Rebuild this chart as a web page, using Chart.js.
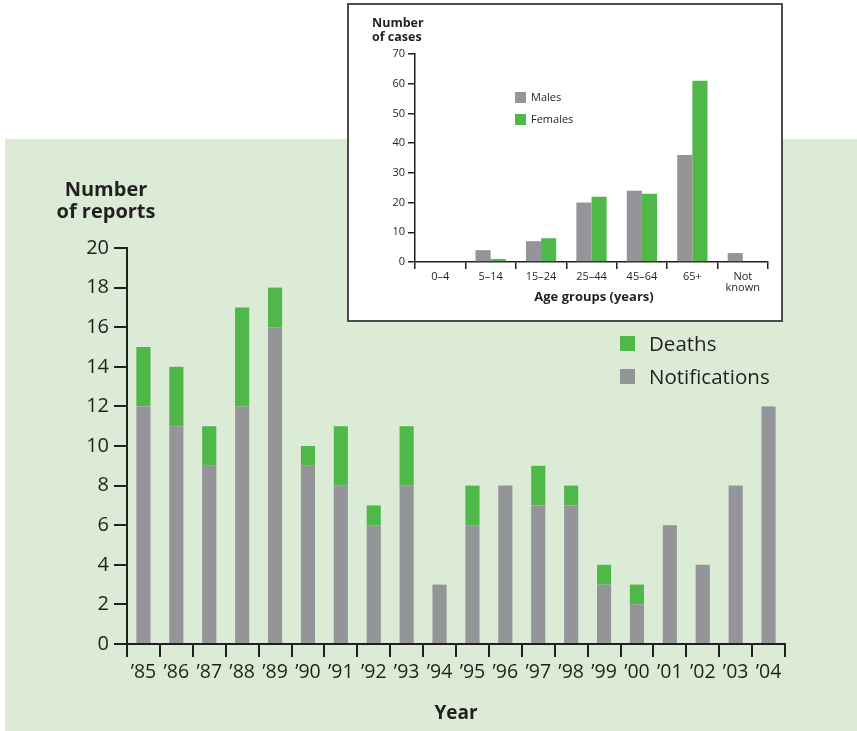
<!DOCTYPE html>
<html>
<head>
<meta charset="utf-8">
<script src="https://cdn.jsdelivr.net/npm/chart.js@4.4.0/dist/chart.umd.min.js"></script>
<style>
  body { margin: 0; width: 857px; height: 731px; background: #fff; position: relative; overflow: hidden; font-family: "Open Sans", sans-serif; color: #231f20; }
  #panel { position: absolute; left: 5px; top: 139px; width: 852px; height: 592px; background: #dbebd5; }
  #mainWrap { position: absolute; left: 0; top: 138px; width: 857px; height: 593px; }
  #insetBox { position: absolute; left: 347px; top: 3px; width: 432px; height: 315px; background: #fff; border: 2px solid #4d4d4f; }
  #insetWrap { position: absolute; left: 0; top: 0; width: 430px; height: 315px; }
  .txt { position: absolute; white-space: nowrap; line-height: 1; }
  .b { font-weight: 700; }
  .sq { position: absolute; }
</style>
</head>
<body>
<div id="panel"></div>
<div id="mainWrap"><canvas id="mainChart"></canvas></div>

<div class="txt b" style="left:51px; top:178px; width:110px; text-align:center; font-size:20px; line-height:22px;">Number<br>of reports</div>
<div class="txt b" style="left:406px; top:703px; width:100px; text-align:center; font-size:19px;">Year</div>

<div class="sq" style="left:620px; top:336px; width:15px; height:15px; background:#50b848;"></div>
<div class="txt" style="left:649px; top:333px; font-size:20.5px;">Deaths</div>
<div class="sq" style="left:620px; top:369px; width:15px; height:15px; background:#939598;"></div>
<div class="txt" style="left:649px; top:366px; font-size:20.5px;">Notifications</div>

<div id="insetBox">
  <div id="insetWrap"><canvas id="insetChart"></canvas></div>
  <div class="txt b" style="left:23px; top:11px; font-size:12.5px; line-height:14px;">Number<br>of cases</div>
  <div class="txt b" style="left:145px; top:285px; width:200px; text-align:center; font-size:13px;">Age groups (years)</div>
  <div class="sq" style="left:166px; top:87px; width:11px; height:11px; background:#939598;"></div>
  <div class="txt" style="left:182px; top:86px; font-size:11px;">Males</div>
  <div class="sq" style="left:166px; top:109px; width:11px; height:11px; background:#50b848;"></div>
  <div class="txt" style="left:182px; top:108px; font-size:11px;">Females</div>
</div>

<script>
// main chart data
const years = ['\u201985', '\u201986', '\u201987', '\u201988', '\u201989', '\u201990', '\u201991', '\u201992', '\u201993', '\u201994',
               '\u201995', '\u201996', '\u201997', '\u201998', '\u201999', '\u201900', '\u201901', '\u201902', '\u201903', '\u201904'];
const notifications = [12, 11, 9, 12, 16, 9, 8, 6, 8, 3, 6, 8, 7, 7, 3, 2, 6, 4, 8, 12];
const deaths = [3, 3, 2, 5, 2, 1, 3, 1, 3, 0, 2, 0, 2, 1, 1, 1, 0, 0, 0, 0];

// inset data
const ageGroups = ['0\u20134', '5\u201314', '15\u201324', '25\u201344', '45\u201364', '65+', ['Not', 'known']];
const males = [0, 4, 7, 20, 24, 36, 3];
const females = [0, 1, 8, 22, 23, 61, 0];

const ink = '#231f20';
const grey = '#939598';
const green = '#50b848';

Chart.defaults.font.family = '"Open Sans", sans-serif';
Chart.defaults.color = ink;

var mainCtx = document.getElementById('mainChart').getContext('2d');
var mainChart = new Chart(mainCtx, {
    type: 'bar',
    data: {
        labels: years,
        datasets: [
            { label: 'Notifications', data: notifications, backgroundColor: grey },
            { label: 'Deaths', data: deaths, backgroundColor: green }
        ]
    },
    options: {
        responsive: true,
        maintainAspectRatio: false,
        animation: false,
        layout: { padding: { left: 0, right: 72, top: 110, bottom: 0 } },
        plugins: { legend: { display: false }, tooltip: { enabled: false } },
        datasets: { bar: { barPercentage: 0.43, categoryPercentage: 1 } },
        scales: {
            x: {
                stacked: true,
                afterFit: function (scale) { scale.height = 87; },
                grid: { display: true, drawOnChartArea: false, drawTicks: true, tickLength: 13, color: ink, lineWidth: 2, offset: true },
                border: { display: true, color: ink, width: 2 },
                ticks: { font: { size: 19.5 }, color: ink, padding: 4, maxRotation: 0, autoSkip: false }
            },
            y: {
                stacked: true,
                min: 0,
                max: 20,
                afterFit: function (scale) { scale.width = 127; },
                grid: { display: true, drawOnChartArea: false, drawTicks: true, tickLength: 13, color: ink, lineWidth: 2 },
                border: { display: true, color: ink, width: 2 },
                ticks: { stepSize: 2, font: { size: 20 }, color: ink, padding: 5 }
            }
        }
    }
});

var insetCtx = document.getElementById('insetChart').getContext('2d');
var insetChart = new Chart(insetCtx, {
    type: 'bar',
    data: {
        labels: ageGroups,
        datasets: [
            { label: 'Males', data: males, backgroundColor: grey },
            { label: 'Females', data: females, backgroundColor: green }
        ]
    },
    options: {
        responsive: true,
        maintainAspectRatio: false,
        animation: false,
        layout: { padding: { left: 0, right: 11, top: 49, bottom: 0 } },
        plugins: { legend: { display: false }, tooltip: { enabled: false } },
        datasets: { bar: { barPercentage: 1, categoryPercentage: 0.6 } },
        scales: {
            x: {
                afterFit: function (scale) { scale.height = 58; },
                grid: { display: true, drawOnChartArea: false, drawTicks: true, tickLength: 7, color: ink, lineWidth: 1.5, offset: true },
                border: { display: true, color: ink, width: 1.5 },
                ticks: { font: { size: 11, lineHeight: 1.05 }, color: ink, padding: 2, maxRotation: 0, autoSkip: false }
            },
            y: {
                min: 0,
                max: 70,
                afterFit: function (scale) { scale.width = 66; },
                grid: { display: true, drawOnChartArea: false, drawTicks: true, tickLength: 7, color: ink, lineWidth: 1.5 },
                border: { display: true, color: ink, width: 1.5 },
                ticks: { stepSize: 10, font: { size: 11 }, color: ink, padding: 3 }
            }
        }
    }
});
</script>
</body>
</html>
